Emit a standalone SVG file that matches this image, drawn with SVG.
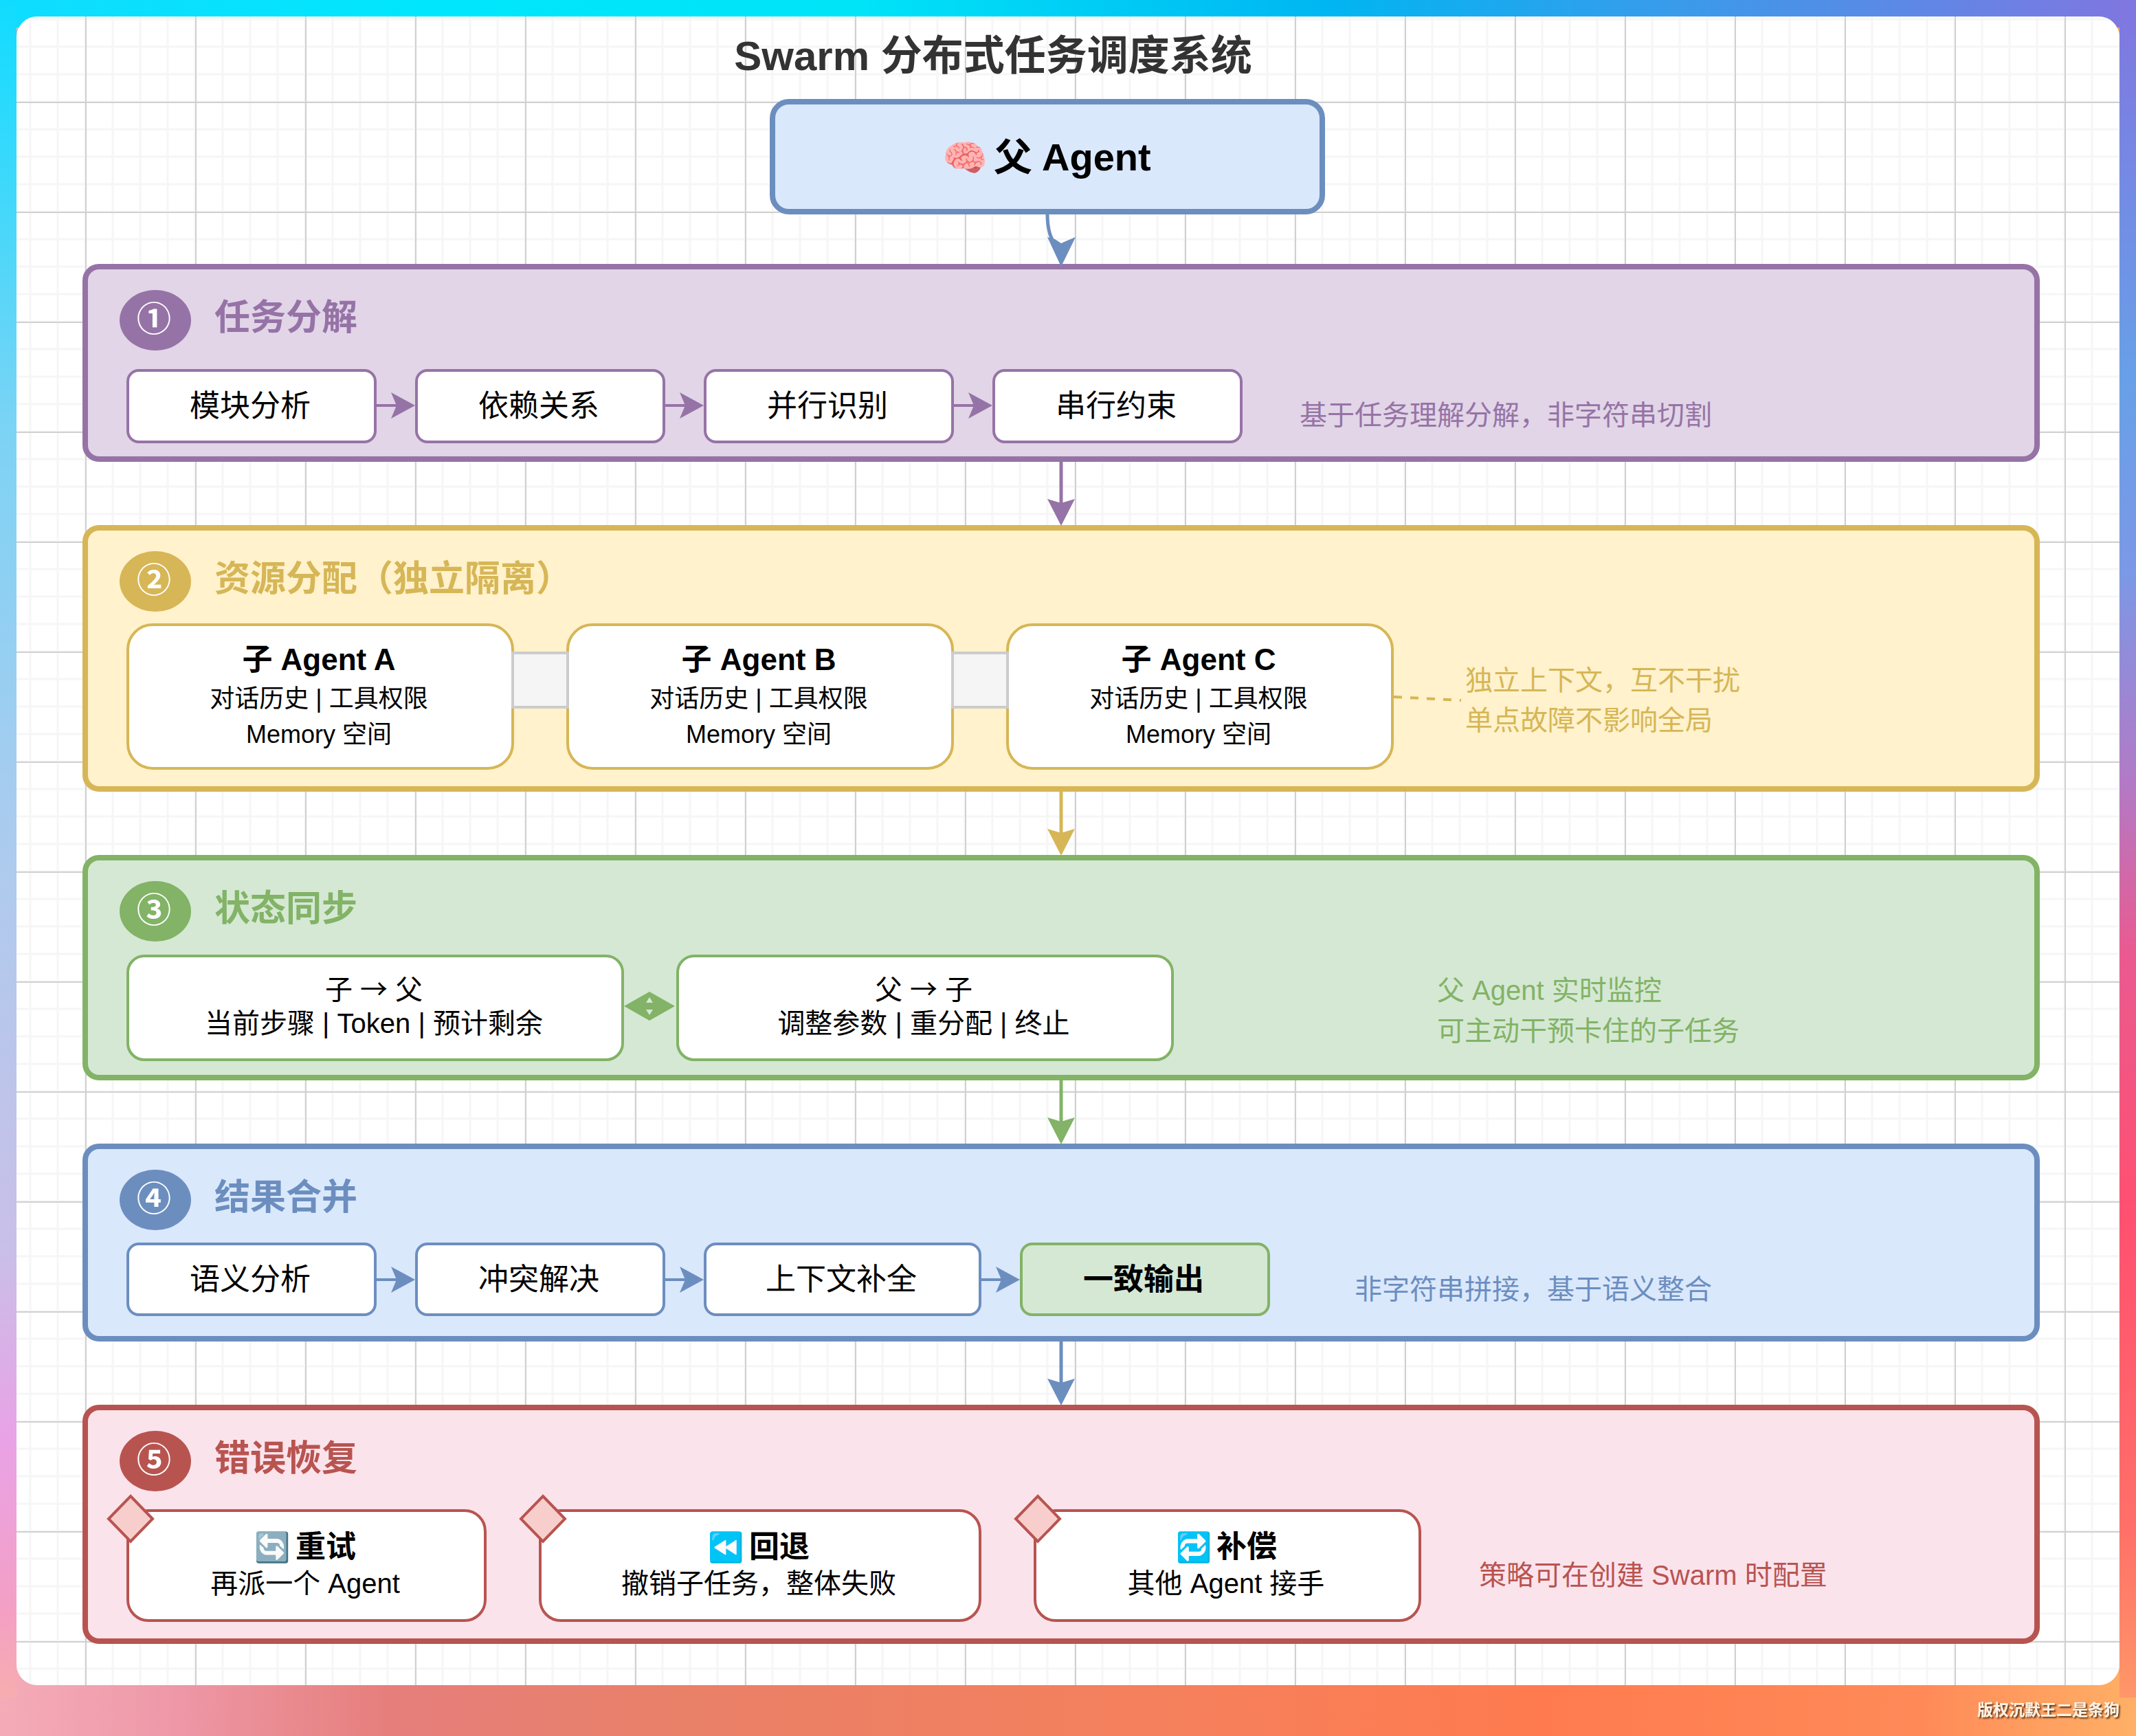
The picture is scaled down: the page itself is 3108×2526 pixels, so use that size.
<svg xmlns="http://www.w3.org/2000/svg" width="3108" height="2526" viewBox="0 0 3108 2526">
<defs>
<linearGradient id="gTop" x1="0" y1="0" x2="3108" y2="0" gradientUnits="userSpaceOnUse"><stop offset="0" stop-color="#10dcff"/><stop offset="0.2" stop-color="#00e6fc"/><stop offset="0.4" stop-color="#00e4f8"/><stop offset="0.62" stop-color="#00b6f2"/><stop offset="0.8" stop-color="#3f98ea"/><stop offset="1" stop-color="#8076e0"/></linearGradient>
<linearGradient id="gBot" x1="0" y1="2452" x2="3108" y2="2526" gradientUnits="userSpaceOnUse"><stop offset="0" stop-color="#f5acb8"/><stop offset="0.08" stop-color="#ee98a8"/><stop offset="0.18" stop-color="#e67f7c"/><stop offset="0.32" stop-color="#e98068"/><stop offset="0.55" stop-color="#f5805c"/><stop offset="0.72" stop-color="#ff7b4f"/><stop offset="0.9" stop-color="#ff8a58"/><stop offset="1" stop-color="#ffb066"/></linearGradient>
<linearGradient id="gL" x1="0" y1="0" x2="0" y2="2526" gradientUnits="userSpaceOnUse"><stop offset="0" stop-color="#10dcff"/><stop offset="0.25" stop-color="#7dd3f5"/><stop offset="0.5" stop-color="#aecbee"/><stop offset="0.72" stop-color="#c9bfe8"/><stop offset="0.83" stop-color="#e9a2e6"/><stop offset="0.93" stop-color="#f4a0c4"/><stop offset="1" stop-color="#f8b4a4"/></linearGradient>
<linearGradient id="gR" x1="0" y1="0" x2="0" y2="2526" gradientUnits="userSpaceOnUse"><stop offset="0" stop-color="#8076e0"/><stop offset="0.22" stop-color="#68a0e8"/><stop offset="0.33" stop-color="#7c98e6"/><stop offset="0.45" stop-color="#b27ac6"/><stop offset="0.55" stop-color="#ea5a90"/><stop offset="0.7" stop-color="#ff5070"/><stop offset="0.88" stop-color="#ff7068"/><stop offset="1" stop-color="#ffa068"/></linearGradient>
<pattern id="minor" x="42" y="26" width="40" height="40" patternUnits="userSpaceOnUse"><path d="M2 0V40M0 2H40" fill="none" stroke="#f6f6f6" stroke-width="3"/></pattern>
<pattern id="major" x="124" y="148" width="160" height="160" patternUnits="userSpaceOnUse"><path d="M1 0V160M0 1H160" fill="none" stroke="#d0d0d0" stroke-width="2"/></pattern>
<clipPath id="frame"><rect x="24" y="24" width="3060" height="2428" rx="30"/></clipPath>
<filter id="sh" x="-10%" y="-30%" width="120%" height="160%"><feDropShadow dx="2" dy="2" stdDeviation="1" flood-color="#3a1a00" flood-opacity="0.85"/></filter>
<filter id="toBlue" x="-10%" y="-10%" width="120%" height="120%"><feColorMatrix type="hueRotate" values="185"/></filter>
</defs>
<style>
text{font-family:"Liberation Sans","Noto Sans CJK SC",sans-serif;fill:#000}
.c{text-anchor:middle}
.t44{font-size:44px}.t40{font-size:40px}.t36{font-size:36px}
.b{font-weight:bold}
.emo{font-size:42px}
.cjk{font-family:"Noto Sans CJK SC",sans-serif}
.head{font-size:52px;font-weight:bold}
.note{font-size:40px}
.num{font-size:50px;fill:#fff;text-anchor:middle;font-weight:bold}
.panel{stroke-width:8}
.node{fill:#fff;stroke-width:4}
.pu{stroke:#9673a6}.ye{stroke:#d6b656}.gr{stroke:#82b366}.bl{stroke:#6c8ebf}.re{stroke:#b85450}
.fpu{fill:#9673a6}.fye{fill:#d6b656}.fgr{fill:#82b366}.fbl{fill:#6c8ebf}.fre{fill:#b85450}
.tpu{fill:#9673a6}.tye{fill:#d6b656}.tgr{fill:#82b366}.tbl{fill:#6c8ebf}.tre{fill:#b85450}
.ln{fill:none;stroke-width:4}
.vl{fill:none;stroke-width:5}
.dia{fill:#f8cecc;stroke:#b85450;stroke-width:4}
.iso{fill:#f5f5f5;stroke:#cccccc;stroke-width:4}
</style>
<g id="background">
<rect width="3108" height="2526" fill="url(#gBot)"/>
<rect width="3108" height="40" fill="url(#gTop)"/>
<rect y="0" width="24" height="2470" fill="url(#gL)"/>
<rect x="3084" width="24" height="2470" fill="url(#gR)"/>
<g clip-path="url(#frame)">
<rect x="24" y="24" width="3060" height="2428" fill="#fff"/>
<rect x="24" y="24" width="3060" height="2428" fill="url(#minor)"/>
<rect x="24" y="24" width="3060" height="2428" fill="url(#major)"/>
</g>
</g>
<text id="title" x="1445" y="102" class="c b" font-size="60" style="fill:#333">Swarm 分布式任务调度系统</text>
<g id="parent">
<rect x="1124" y="148" width="800" height="160" rx="24" fill="#dae8fc" stroke="#6c8ebf" stroke-width="8"/>
<text y="248" class="b" font-size="56"><tspan x="1371" font-size="53">🧠</tspan> <tspan x="1446">父</tspan> <tspan x="1516">Agent</tspan></text>
</g>
<g id="panel1">
<rect class="panel pu" x="124" y="388" width="2840" height="280" rx="20" fill="#e1d5e7"/>
<ellipse class="fpu" cx="226" cy="466" rx="52" ry="44"/>
<text class="num" x="224" y="482">①</text>
<text class="head tpu" x="312" y="480">任务分解</text>
<text class="note tpu" x="1891" y="618">基于任务理解分解，非字符串切割</text>
</g>
<g id="n1a"><rect class="node pu" x="186" y="539" width="360" height="104" rx="16"/><text class="t44 c" x="364" y="606">模块分析</text></g>
<g id="n1b"><rect class="node pu" x="606" y="539" width="360" height="104" rx="16"/><text class="t44 c" x="784" y="606">依赖关系</text></g>
<g id="n1c"><rect class="node pu" x="1026" y="539" width="360" height="104" rx="16"/><text class="t44 c" x="1204" y="606">并行识别</text></g>
<g id="n1d"><rect class="node pu" x="1446" y="539" width="360" height="104" rx="16"/><text class="t44 c" x="1624" y="606">串行约束</text></g>
<g id="panel2">
<rect class="panel ye" x="124" y="768" width="2840" height="380" rx="20" fill="#fff2cc"/>
<ellipse class="fye" cx="226" cy="846" rx="52" ry="44"/>
<text class="num" x="224" y="862">②</text>
<text class="head tye" x="312" y="860">资源分配（独立隔离）</text>
<text class="note tye" x="2132" y="1004">独立上下文，互不干扰</text>
<text class="note tye" x="2132" y="1062">单点故障不影响全局</text>
</g>
<g id="n2a"><rect class="node ye" x="186" y="909" width="560" height="209" rx="36"/><text class="t44 b c" x="464" y="975">子 Agent A</text><text class="t36 c" x="464" y="1029">对话历史 | 工具权限</text><text class="t36 c" x="464" y="1081">Memory 空间</text></g>
<g id="n2b"><rect class="node ye" x="826" y="909" width="560" height="209" rx="36"/><text class="t44 b c" x="1104" y="975">子 Agent B</text><text class="t36 c" x="1104" y="1029">对话历史 | 工具权限</text><text class="t36 c" x="1104" y="1081">Memory 空间</text></g>
<g id="n2c"><rect class="node ye" x="1466" y="909" width="560" height="209" rx="36"/><text class="t44 b c" x="1744" y="975">子 Agent C</text><text class="t36 c" x="1744" y="1029">对话历史 | 工具权限</text><text class="t36 c" x="1744" y="1081">Memory 空间</text></g>
<g id="panel3">
<rect class="panel gr" x="124" y="1248" width="2840" height="320" rx="20" fill="#d5e8d4"/>
<ellipse class="fgr" cx="226" cy="1326" rx="52" ry="44"/>
<text class="num" x="224" y="1342">③</text>
<text class="head tgr" x="312" y="1340">状态同步</text>
<text class="note tgr" x="2091" y="1455">父 Agent 实时监控</text>
<text class="note tgr" x="2091" y="1514">可主动干预卡住的子任务</text>
</g>
<g id="n3a"><rect class="node gr" x="186" y="1391" width="720" height="151" rx="24"/><text class="t40 c" x="544" y="1454">子 <tspan class="cjk">→</tspan> 父</text><text class="t40 c" x="544" y="1503">当前步骤 | Token | 预计剩余</text></g>
<g id="n3b"><rect class="node gr" x="986" y="1391" width="720" height="151" rx="24"/><text class="t40 c" x="1344" y="1454">父 <tspan class="cjk">→</tspan> 子</text><text class="t40 c" x="1344" y="1503">调整参数 | 重分配 | 终止</text></g>
<g id="panel4">
<rect class="panel bl" x="124" y="1668" width="2840" height="280" rx="20" fill="#dae8fc"/>
<ellipse class="fbl" cx="226" cy="1746" rx="52" ry="44"/>
<text class="num" x="224" y="1762">④</text>
<text class="head tbl" x="312" y="1760">结果合并</text>
<text class="note tbl" x="1971" y="1890">非字符串拼接，基于语义整合</text>
</g>
<g id="n4a"><rect class="node bl" x="186" y="1810" width="360" height="103" rx="16"/><text class="t44 c" x="364" y="1877">语义分析</text></g>
<g id="n4b"><rect class="node bl" x="606" y="1810" width="360" height="103" rx="16"/><text class="t44 c" x="784" y="1877">冲突解决</text></g>
<g id="n4c"><rect class="node bl" x="1026" y="1810" width="400" height="103" rx="16"/><text class="t44 c" x="1224" y="1877">上下文补全</text></g>
<g id="n4d"><rect class="gr" x="1486" y="1810" width="360" height="103" rx="16" fill="#d5e8d4" stroke-width="4"/><text class="t44 b c" x="1664" y="1877">一致输出</text></g>
<g id="panel5">
<rect class="panel re" x="124" y="2048" width="2840" height="340" rx="20" fill="#fbe3ec"/>
<ellipse class="fre" cx="226" cy="2126" rx="52" ry="44"/>
<text class="num" x="224" y="2142">⑤</text>
<text class="head tre" x="312" y="2140">错误恢复</text>
<text class="note tre" x="2152" y="2306">策略可在创建 Swarm 时配置</text>
</g>
<g id="n5a"><rect class="node re" x="186" y="2198" width="520" height="160" rx="30"/><polygon class="dia" points="190,2177 222,2210 190,2243 158,2210"/><text class="emo" x="370" y="2266">🔄</text><text class="t44 b" x="430" y="2266">重试</text><text class="t40 c" x="444" y="2318">再派一个 Agent</text></g>
<g id="n5b"><rect class="node re" x="786" y="2198" width="640" height="160" rx="30"/><polygon class="dia" points="790,2177 822,2210 790,2243 758,2210"/><text class="emo" x="1030" y="2266" filter="url(#toBlue)">⏪</text><text class="t44 b" x="1090" y="2266">回退</text><text class="t40 c" x="1104" y="2318">撤销子任务，整体失败</text></g>
<g id="n5c"><rect class="node re" x="1506" y="2198" width="560" height="160" rx="30"/><polygon class="dia" points="1510,2177 1542,2210 1510,2243 1478,2210"/><text class="emo" x="1711" y="2266" filter="url(#toBlue)">🔁</text><text class="t44 b" x="1770" y="2266">补偿</text><text class="t40 c" x="1784" y="2318">其他 Agent 接手</text></g>
<g id="connectors">
<path class="vl bl" d="M1524 312C1524 345 1534 352 1542 368"/>
<polygon class="fbl" points="1544,388 1524,345 1535,348 1544,354 1553,350 1565,345"/>
<path class="vl pu" d="M1544 672V745"/><polygon class="fpu" points="1544,765 1524,726 1544,732 1564,726"/>
<path class="vl ye" d="M1544 1152V1225"/><polygon class="fye" points="1544,1245 1524,1206 1544,1212 1564,1206"/>
<path class="vl gr" d="M1544 1572V1645"/><polygon class="fgr" points="1544,1665 1524,1626 1544,1632 1564,1626"/>
<path class="vl bl" d="M1544 1952V2025"/><polygon class="fbl" points="1544,2045 1524,2006 1544,2012 1564,2006"/>
<g id="c1">
<path class="ln pu" d="M548 590H585"/><polygon class="fpu" points="604,590 569,571 577,590 569,609"/>
<path class="ln pu" d="M968 590H1005"/><polygon class="fpu" points="1024,590 989,571 997,590 989,609"/>
<path class="ln pu" d="M1388 590H1425"/><polygon class="fpu" points="1444,590 1409,571 1417,590 1409,609"/>
</g>
<g id="c4">
<path class="ln bl" d="M548 1862H585"/><polygon class="fbl" points="604,1862 569,1843 577,1862 569,1881"/>
<path class="ln bl" d="M968 1862H1005"/><polygon class="fbl" points="1024,1862 989,1843 997,1862 989,1881"/>
<path class="ln bl" d="M1428 1862H1465"/><polygon class="fbl" points="1484,1862 1449,1843 1457,1862 1449,1881"/>
</g>
<rect class="iso" x="746" y="950" width="80" height="79"/>
<rect class="iso" x="1386" y="950" width="80" height="79"/>
<path class="ln ye" d="M2028 1014L2126 1019" stroke-dasharray="12 12"/>
<path class="fgr" fill-rule="evenodd" d="M908 1464L945 1443L982 1464L945 1485ZM945 1451L940 1459H950ZM945 1477L940 1469H950Z"/>
</g>
<text id="wm" x="3084" y="2496" text-anchor="end" font-size="23" font-weight="bold" style="fill:#fff3e6" filter="url(#sh)">版权沉默王二是条狗</text>
</svg>
